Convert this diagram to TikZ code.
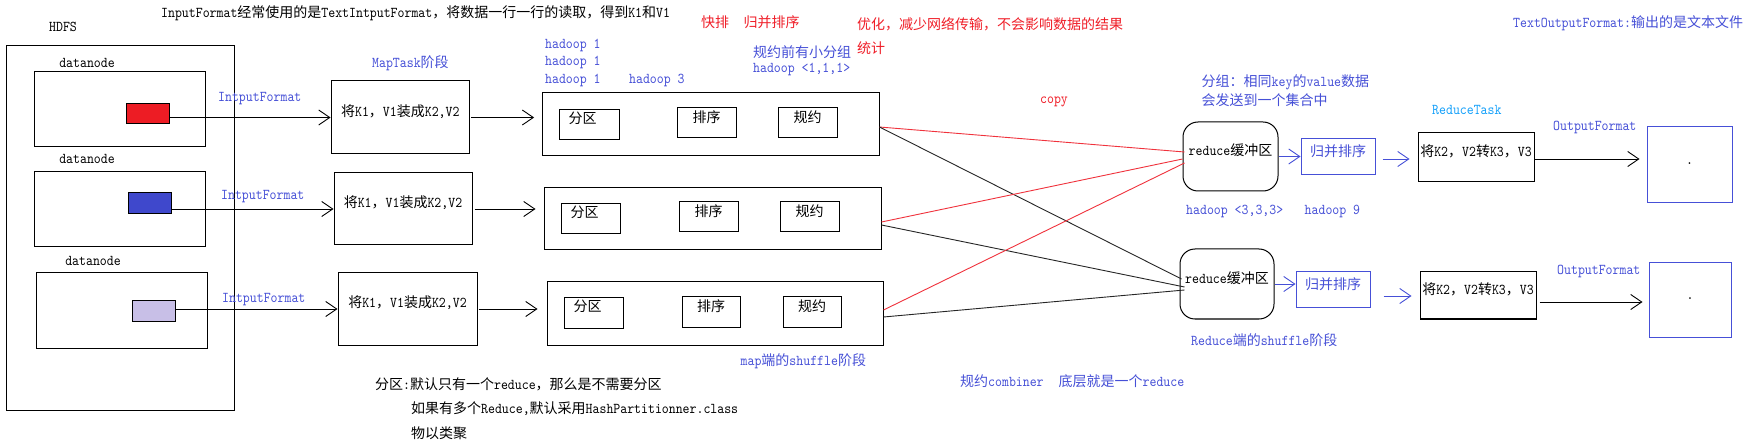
\documentclass[tikz,border=0pt]{standalone}
\usepackage{fontspec}
\usetikzlibrary{arrows.meta,fit,calc}
\newfontfamily\cjkfont{Noto Sans CJK SC}
\newfontfamily\latfont{lmmono10-regular.otf}[FakeStretch=0.88]
\newcommand\latsw{\fontsize{15}{17}\selectfont\latfont}
\newcommand\cjksw{\fontsize{14}{17}\selectfont\cjkfont}
\XeTeXinterchartokenstate=1
\newcount\cjkcnt
\def\setcjkrange#1#2{\cjkcnt=#1\relax\loop\XeTeXcharclass\cjkcnt=7\relax\ifnum\cjkcnt<#2\relax\advance\cjkcnt by 1\relax\repeat}
\setcjkrange{"3000}{"303F}
\setcjkrange{"4E00}{"9FFF}
\setcjkrange{"FF00}{"FFEF}
\XeTeXinterchartoks 0 7 = {\cjksw}
\XeTeXinterchartoks 4095 7 = {\cjksw}
\XeTeXinterchartoks 7 0 = {\latsw}
\XeTeXinterchartoks 7 4095 = {\latsw}
\definecolor{tblue}{RGB}{70,80,215}
\definecolor{tred}{RGB}{240,30,40}
\definecolor{tcyan}{RGB}{20,160,250}
\definecolor{blkred}{RGB}{237,28,36}
\definecolor{blkblue}{RGB}{63,72,204}
\definecolor{blklav}{RGB}{200,191,231}
\definecolor{lred}{RGB}{240,50,60}
\begin{document}
\begin{tikzpicture}[x=1pt,y=-1pt,
  box/.style={draw=black, line width=1pt, inner sep=0pt, font=\latsw},
  bbox/.style={draw=tblue, line width=1pt, inner sep=0pt, font=\latsw},
  txt/.style={inner sep=0pt, anchor=west, font=\latsw},
  ctxt/.style={inner sep=0pt, font=\latsw},
  arr/.style={-{Straight Barb[length=11pt,width=15pt,line width=0.9pt]}, line width=0.9pt},
  redline/.style={draw=lred, line width=0.9pt},
  blkline/.style={draw=black!85, line width=0.9pt}]
\fill[white] (0,0) rectangle (1748,446);
\useasboundingbox (0,0) rectangle (1748,446);

% HDFS side
\node[box, fit={(6.9,46)(234,410)}] (hdfs) {};
\node[ctxt] (hdfslbl) at (63,27) {HDFS};
\node[box, fit={(34.4,72)(205.5,147)}] (dn1) {};
\node[ctxt] (dnl1) at (87,63) {datanode};
\node[box, fit={(34.4,172)(205.5,247)}] (dn2) {};
\node[ctxt] (dnl2) at (87,159) {datanode};
\node[box, fit={(36.4,273)(207.4,348)}] (dn3) {};
\node[ctxt] (dnl3) at (93,261) {datanode};
\node[box, fill=blkred, fit={(126,104)(169,124)}] (b1) {};
\node[box, fill=blkblue, fit={(128.6,193)(171.4,214)}] (b2) {};
\node[box, fill=blklav, fit={(132.4,301)(175.3,321)}] (b3) {};

% Map boxes
\node[box, fit={(331,81)(469.6,154)}] (m1) {将K1，V1装成K2,V2};
\node[box, fit={(334,173)(472,245)}] (m2) {将K1，V1装成K2,V2};
\node[box, fit={(338,273)(477,345)}] (m3) {将K1，V1装成K2,V2};

\draw[arr] (b1.east |- m1.west) -- (m1.west);
\draw[arr] (b2.east |- m2.west) -- (m2.west);
\draw[arr] (b3.east |- m3.west) -- (m3.west);
\node[txt, text=tblue] (if1) at (218,99) {IntputFormat};
\node[txt, text=tblue] (if2) at (221,197) {IntputFormat};
\node[txt, text=tblue] (if3) at (222,300) {IntputFormat};

% shuffle boxes
\node[box, fit={(542.6,93)(879,156)}] (s1) {};
\node[box, fit={(559,110)(619,140)}] (p1) {};
\node[ctxt] (p1t) at ([shift={(24,9)}]p1.north west) {分区};
\node[box, fit={(677,108)(736,138)}] (r1) {排序};
\node[box, fit={(778,108)(837,138)}] (c1) {规约};

\node[box, fit={(544,188)(881,250)}] (s2) {};
\node[box, fit={(561,204)(620,234)}] (p2) {};
\node[ctxt] (p2t) at ([shift={(24,9)}]p2.north west) {分区};
\node[box, fit={(679,202)(738,232)}] (r2) {排序};
\node[box, fit={(780,202)(839,232)}] (c2) {规约};

\node[box, fit={(547,282)(883,345)}] (s3) {};
\node[box, fit={(564,298)(623,328)}] (p3) {};
\node[ctxt] (p3t) at ([shift={(24,9)}]p3.north west) {分区};
\node[box, fit={(682,297)(740,327)}] (r3) {排序};
\node[box, fit={(783,297)(841,327)}] (c3) {规约};

\draw[arr, shorten >=8pt] ([xshift=1pt]m1.east) -- (m1.east -| s1.west);
\draw[arr, shorten >=8pt] ([xshift=2pt]m2.east) -- (m2.east -| s2.west);
\draw[arr, shorten >=9pt] ([xshift=1pt]m3.east) -- (m3.east -| s3.west);

% reduce buffers
\node[box, rounded corners=15pt, fit={(1183,122)(1278,191)}] (R1) {reduce缓冲区};
\node[box, rounded corners=15pt, fit={(1180,249)(1274,319)}] (R2) {reduce缓冲区};

\draw[redline] ($(s1.east)+(0,2.5)$) -- ($(R1.west)+(2,-4.5)$);
\draw[blkline] ($(s1.east)+(0,2.5)$) -- ($(R2.west)+(2,-5)$);
\draw[redline] ($(s2.east)+(0,3)$) -- ($(R1.west)+(0,2.5)$);
\draw[blkline] ($(s2.east)+(0,6)$) -- ($(R2.west)+(5,3)$);
\draw[redline] ($(s3.east)+(0,-3.5)$) -- ($(R1.west)+(2,6.5)$);
\draw[blkline] ($(s3.east)+(0,3.5)$) -- ($(R2.west)+(5,6)$);

% merge sort
\node[bbox, text=tblue, fit={(1301,139)(1375,175)}] (g1) {归并排序};
\node[bbox, text=tblue, fit={(1296,272)(1370,308)}] (g2) {归并排序};
\draw[arr, tblue] (R1.east) -- (R1.east -| g1.west);
\draw[arr, tblue] (R2.east) -- (R2.east -| g2.west);

% K2 boxes
\node[box, fit={(1418,133)(1534,182)}] (k1) {将K2，V2转K3，V3};
\node[box, fit={(1420,272)(1536,319)}] (k2) {将K2，V2转K3，V3};
\coordinate (g1o) at ($(g1.east)+(7,2)$);
\coordinate (g2o) at ($(g2.east)+(13,6)$);
\draw[arr, tblue, shorten >=8pt] (g1o) -- (g1o -| k1.west);
\draw[arr, tblue, shorten >=8pt] (g2o) -- (g2o -| k2.west);

% outputs
\node[bbox, fit={(1647,127)(1732,203)}] (o1) {.};
\node[bbox, fit={(1649,263)(1731,337)}] (o2) {.};
\coordinate (k1o) at ($(k1.east)+(0,1.5)$);
\coordinate (k2o) at ($(k2.east)+(3,6.5)$);
\draw[arr, shorten >=7pt] (k1o) -- (k1o -| o1.west);
\draw[arr, shorten >=6pt] (k2o) -- (k2o -| o2.west);

% labels
\node[txt] (title) at (161,13) {InputFormat经常使用的是TextIntputFormat，将数据一行一行的读取，得到K1和V1};
\node[txt, text=tred] (kp) at (701,22) {快排};
\node[txt, text=tred] (gb) at (743.5,22) {归并排序};
\node[txt, text=tred] (yh) at (857,24) {优化，减少网络传输，不会影响数据的结果};
\node[txt, text=tred] (tj) at (857,48) {统计};
\node[txt, text=tblue] (gy) at (753,52) {规约前有小分组};
\node[txt, text=tblue] (h111) at (753,70) {hadoop <1,1,1>};
\node[txt, text=tblue] (h1a) at (545,46) {hadoop 1};
\node[txt, text=tblue] (h1b) at (545,63) {hadoop 1};
\node[txt, text=tblue] (h1c) at (545,81) {hadoop 1};
\node[txt, text=tblue] (h3) at (629,81) {hadoop 3};
\node[txt, text=tblue] (mt) at (372,63) {MapTask阶段};
\node[ctxt, text=tred] (copy) at (1054,102) {copy};
\node[txt, text=tblue] (fz1) at (1201.5,82) {分组：相同key的value数据};
\node[txt, text=tblue] (fz2) at (1201.5,100) {会发送到一个集合中};
\node[txt, text=tcyan] (rt) at (1432,110) {ReduceTask};
\node[txt, text=tblue] (of1) at (1553,128) {OutputFormat};
\node[txt, text=tblue] (of2) at (1557,272) {OutputFormat};
\node[txt, text=tblue] (tof) at (1513,23) {TextOutputFormat:输出的是文本文件};
\node[txt, text=tblue] (h333) at (1186,212) {hadoop <3,3,3>};
\node[txt, text=tblue] (h9) at (1304.5,212) {hadoop 9};
\node[txt, text=tblue] (rsh) at (1191,340) {Reduce端的shuffle阶段};
\node[txt, text=tblue] (msh) at (740.5,361) {map端的shuffle阶段};
\node[txt, text=tblue] (cmb) at (960,381) {规约combiner\hspace{15pt}底层就是一个reduce};
\node[txt] (n1) at (375,384) {分区:默认只有一个reduce，那么是不需要分区};
\node[txt] (n2) at (411,409) {如果有多个Reduce,默认采用HashPartitionner.class};
\node[txt] (n3) at (411,433) {物以类聚};
\end{tikzpicture}
\end{document}
